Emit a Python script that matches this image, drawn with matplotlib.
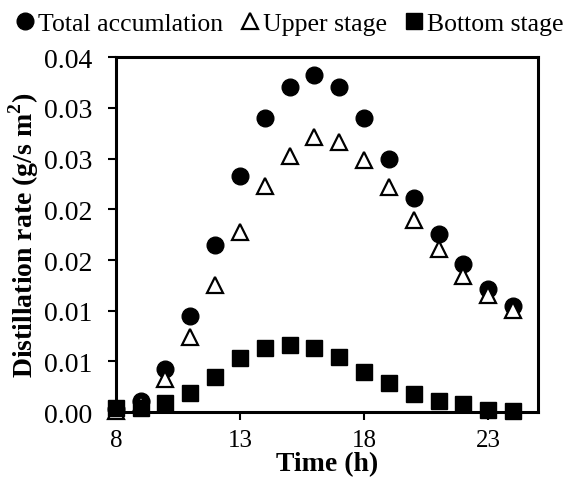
import numpy as np
import matplotlib.pyplot as plt

plt.rcParams['font.family'] = ['Liberation Serif', 'DejaVu Serif']
plt.rcParams['mathtext.fontset'] = 'custom'
plt.rcParams['mathtext.rm'] = 'Liberation Serif'
plt.rcParams['mathtext.bf'] = 'Liberation Serif:bold'

# data
hours = [8, 9, 10, 11, 12, 13, 14, 15, 16, 17, 18, 19, 20, 21, 22, 23, 24]
total = [0.0003, 0.0011, 0.0043, 0.0095, 0.0165, 0.0233, 0.0290, 0.0321, 0.0332,
         0.0321, 0.0290, 0.0250, 0.0211, 0.0176, 0.0146, 0.0121, 0.0105]
upper = [0.0001, 0.0008, 0.0033, 0.0074, 0.0125, 0.0178, 0.0223, 0.0253, 0.0271,
         0.0266, 0.0249, 0.0222, 0.0189, 0.0161, 0.0134, 0.0116, 0.0101]
bottom = [0.0004, 0.0004, 0.0009, 0.0019, 0.0035, 0.0053, 0.0063, 0.0066, 0.0063,
          0.0054, 0.0040, 0.0029, 0.0018, 0.0011, 0.0008, 0.0002, 0.0001]

xticks = [8, 13, 18, 23]
yticks = [0, 0.005, 0.01, 0.015, 0.02, 0.025, 0.03, 0.035]
ytick_labels = ["0.00", "0.01", "0.01", "0.02", "0.02", "0.03", "0.03", "0.04"]

fig = plt.figure(figsize=(5.79, 4.81), dpi=100)
ax = fig.add_axes([0.200, 0.141, 0.729, 0.738])

ax.plot(hours, total, 'o', color='black', ms=12, label="Total accumlation", clip_on=False, zorder=3)
ax.plot(hours, upper, '^', mfc='white', mec='black', mew=1.6, ms=12, label="Upper stage", clip_on=False, zorder=4)
ax.plot(hours, bottom, 's', color='black', ms=12, label="Bottom stage", clip_on=False, zorder=5)

ax.set_xlim(8, 25)
ax.set_ylim(0, 0.035)
ax.set_xticks(xticks)
ax.set_yticks(yticks)
ax.set_yticklabels(ytick_labels)
ax.tick_params(direction='out', length=6, width=1.5)
ax.tick_params(axis='x', labelsize=18, pad=6)
ax.tick_params(axis='y', labelsize=20, pad=11)
for s in ax.spines.values():
    s.set_linewidth(2.2)

ax.set_xlabel("Time (h)", fontsize=20, fontweight='bold', labelpad=0)
ax.set_ylabel(r"Distillation rate (g/s m$^\mathbf{2}$)", fontsize=20, fontweight='bold', labelpad=2)

fig.legend(loc='upper center', bbox_to_anchor=(0.5, 1.0), ncol=3, frameon=False,
           fontsize=18.5, handlelength=0.7, handletextpad=0.15, columnspacing=0.7,
           borderaxespad=0.1, markerscale=1.0)

plt.savefig("out.png")
